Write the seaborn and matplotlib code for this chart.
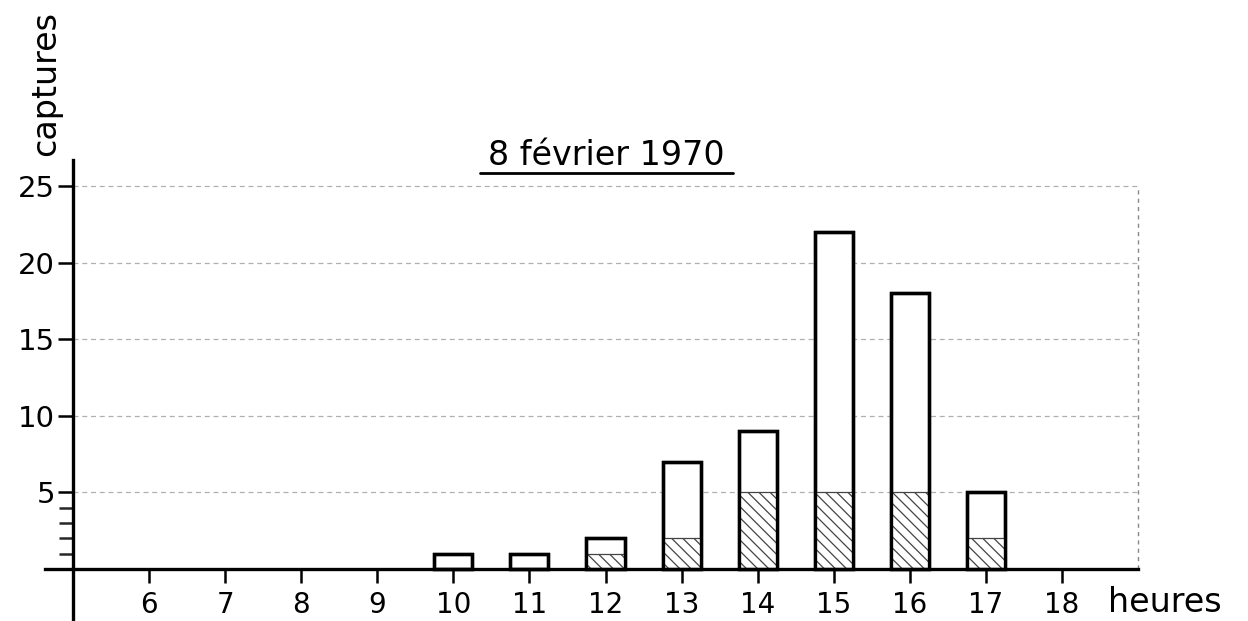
import matplotlib
matplotlib.use("Agg")
import matplotlib.pyplot as plt
from matplotlib.lines import Line2D
import seaborn as sns

# ---- data ----
hours = [10, 11, 12, 13, 14, 15, 16, 17]
total_captures = [1, 1, 2, 7, 9, 22, 18, 5]
hatched_captures = [0, 0, 1, 2, 5, 5, 5, 2]
x_ticks = [6, 7, 8, 9, 10, 11, 12, 13, 14, 15, 16, 17, 18]
y_major = [5, 10, 15, 20, 25]
y_minor = [1, 2, 3, 4]
title_text = "8 février 1970"
ylabel_text = "captures"
xlabel_text = "heures"

sns.set_theme(style="white")
plt.rcParams["font.family"] = ["DejaVu Sans"]
plt.rcParams["text.color"] = "black"
plt.rcParams["hatch.linewidth"] = 0.9
plt.rcParams["hatch.color"] = "#444444"

W, H = 1248, 621
fig = plt.figure(figsize=(W / 100, H / 100), dpi=100)
fig.patch.set_facecolor("white")
ax = fig.add_axes([42.6 / W, 1 - 639.5 / H, (1141.8 - 42.6) / W, (639.5 - 160) / H])
ax.set_facecolor("white")

# grid lines
for y in y_major:
    ax.plot([5, 19], [y, y], ls=(0, (4, 3)), color="#b0b0b0", lw=0.9, zorder=0)
ax.plot([19, 19], [0, 25], ls=(0, (3, 3)), color="#888888", lw=1.0, zorder=0)

# bars
sns.barplot(x=hours, y=total_captures, native_scale=True, width=0.5,
            color="white", saturation=1, edgecolor="black", linewidth=2.4,
            ax=ax, zorder=2)
sns.barplot(x=hours, y=hatched_captures, native_scale=True, width=0.5,
            color="white", saturation=1, edgecolor="#444444", linewidth=0.9,
            hatch="\\\\\\", ax=ax, zorder=3)
sns.barplot(x=hours, y=total_captures, native_scale=True, width=0.5,
            fill=False, edgecolor="black", linewidth=2.4, ax=ax, zorder=4)

ax.set_xlim(4.6, 19.05)
ax.set_ylim(-4.6, 26.7)

# spines
for s in ["top", "right"]:
    ax.spines[s].set_visible(False)
ax.spines["left"].set_position(("data", 5))
ax.spines["bottom"].set_position(("data", 0))
ax.spines["left"].set_bounds(-4.6, 26.7)
ax.spines["bottom"].set_bounds(4.63, 19.0)
for s in ["left", "bottom"]:
    ax.spines[s].set_linewidth(2.4)
    ax.spines[s].set_color("black")
    ax.spines[s].set_zorder(5)

ax.set_xticks(x_ticks)
ax.set_xticklabels([str(t) for t in x_ticks])
ax.set_yticks(y_major)
ax.set_yticklabels([str(t) for t in y_major])
ax.set_yticks(y_minor, minor=True)
ax.tick_params(axis="x", direction="out", length=10, width=1.8, pad=6,
               labelsize=20, colors="black", bottom=True)
ax.tick_params(axis="y", which="major", direction="out", length=11, width=1.8,
               pad=2, labelsize=21, colors="black", left=True)
ax.tick_params(axis="y", which="minor", direction="out", length=10, width=1.8,
               left=True)
ax.set_xlabel("")
ax.set_ylabel("")

# texts
fig.text(1108 / W, 1 - 603 / H, xlabel_text, ha="left", va="center", fontsize=24)
fig.text(46 / W, 1 - 83 / H, ylabel_text, rotation=90, ha="center", va="center",
         fontsize=24)
fig.text(606 / W, 1 - 165 / H, title_text, ha="center", va="baseline", fontsize=24)
fig.add_artist(Line2D([480 / W, 733 / W], [1 - 173 / H, 1 - 173 / H],
                      color="black", lw=2.0))

fig.savefig("out.png", dpi=100, facecolor="white")
